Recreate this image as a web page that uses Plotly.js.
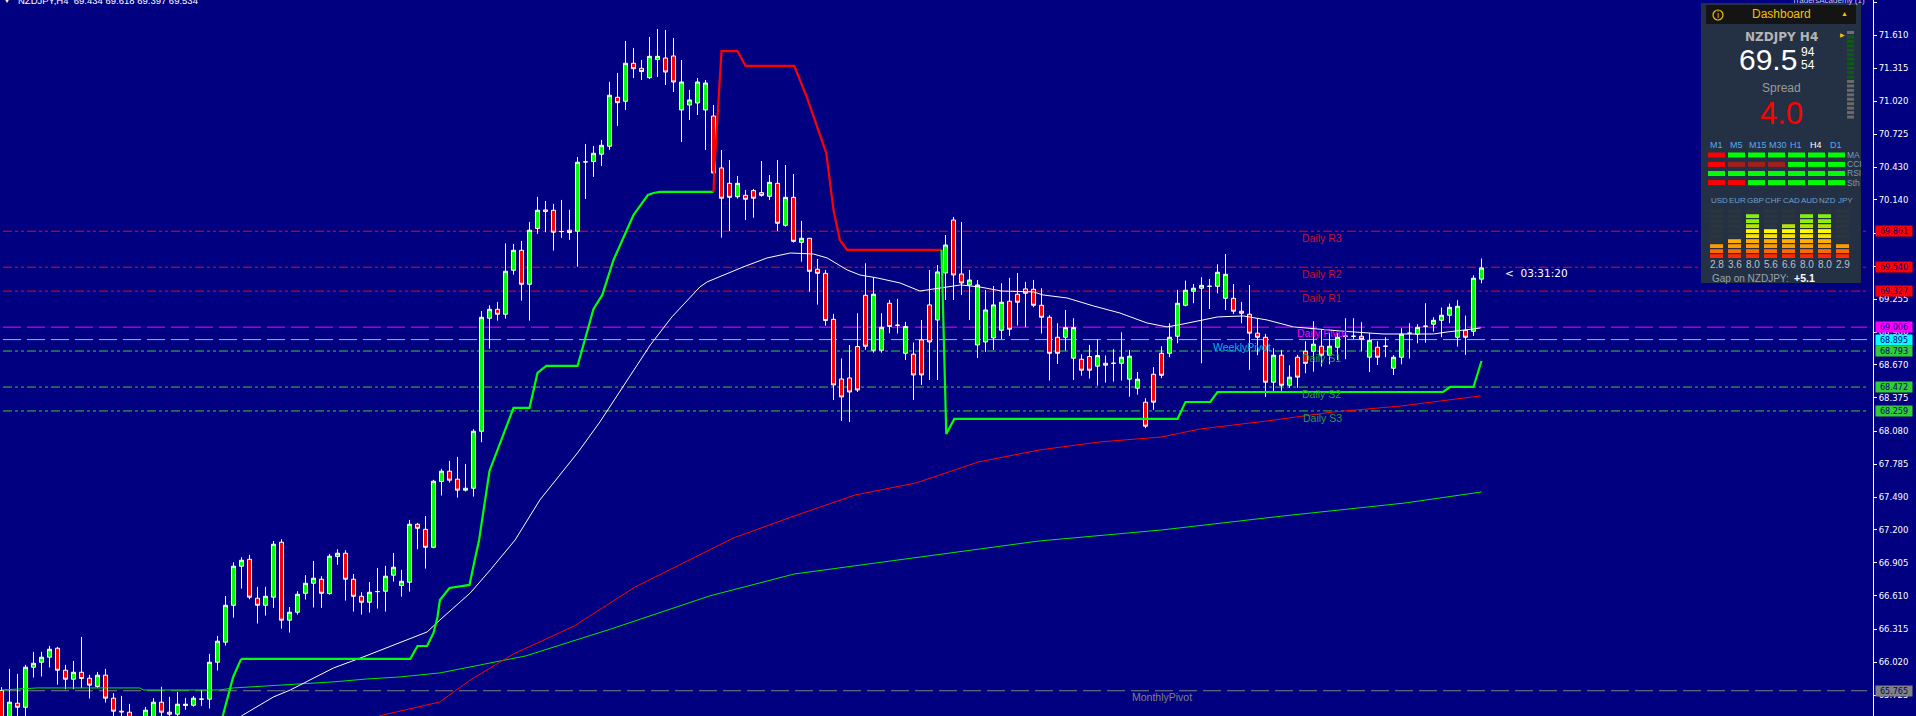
<!DOCTYPE html>
<html><head><meta charset="utf-8">
<script src="https://cdn.plot.ly/plotly-3.0.1.min.js"></script>
<style>html,body{margin:0;padding:0;background:#000080;overflow:hidden}#c{width:1916px;height:716px}</style>
</head><body><div id="c"></div><script>
// candles, oldest first. u = up, d = down
const dirs="d u d u u u u d d u d d u d d d d d u u d d u u u u u u u u u d d u u d u u u u d u u d d d u u u u u u d d u u d d u u u u d u u d u u d d d d u u u u u d u d d u u d d u u u u d d d u d d d u d u d u d d d d d d d d u u d u u d d d u u d d u u u u u d d d d d d d u u d d u d u u u u d d d u u u u u u u u d d d d d u d u d d u d u u u u d u d u u u u u u u u u u d u u u".split(" ");
const highs=[65.797,65.960,65.915,65.996,66.112,66.112,66.165,66.156,65.996,66.031,66.245,65.907,65.933,65.960,65.743,65.719,65.648,65.506,65.621,65.699,65.800,65.711,65.755,65.702,65.719,65.773,66.094,66.254,66.610,66.910,66.955,66.976,66.691,66.691,67.100,67.115,66.512,66.652,66.795,66.922,66.786,66.985,67.026,67.017,66.806,66.643,66.735,66.860,66.878,66.994,66.842,67.288,67.261,67.323,67.645,67.743,67.814,67.850,67.787,68.096,69.150,69.201,69.231,69.753,69.748,69.775,69.944,70.167,70.131,70.105,70.140,70.051,70.523,70.639,70.621,70.675,71.192,71.272,71.557,71.495,71.388,71.593,71.664,71.655,71.583,71.387,71.120,71.227,71.209,70.986,70.585,70.496,70.354,70.229,70.238,70.487,70.362,70.496,70.451,70.371,69.953,69.798,69.614,69.516,69.124,68.726,68.847,69.130,69.575,69.451,69.130,69.249,69.258,69.053,68.869,69.070,69.516,69.560,69.827,69.988,69.943,69.516,69.426,69.337,69.373,69.397,69.445,69.489,69.409,69.427,69.353,69.112,69.041,69.159,69.085,68.764,68.848,68.898,68.753,68.809,68.960,68.803,68.607,68.372,68.649,68.836,69.041,69.338,69.421,69.391,69.451,69.436,69.566,69.658,69.391,69.231,69.382,69.085,68.946,68.818,68.803,68.666,68.759,68.880,69.059,68.981,68.952,68.952,69.085,69.085,69.050,68.952,68.880,68.916,68.756,68.996,69.041,69.032,69.219,69.094,69.180,69.216,69.246,69.109,69.468,69.618];
const bodyTops=[65.767,65.663,65.654,65.975,66.010,66.064,66.135,66.144,65.948,65.930,65.930,65.877,65.904,65.904,65.699,65.583,65.574,65.446,65.592,65.663,65.663,65.574,65.645,65.645,65.699,65.690,66.019,66.207,66.527,66.875,66.928,66.937,66.590,66.607,67.071,67.089,66.465,66.625,66.723,66.768,66.759,66.964,66.991,66.991,66.759,66.607,66.643,66.649,66.786,66.866,66.741,67.249,67.249,67.204,67.633,67.722,67.722,67.651,67.570,68.078,69.094,69.165,69.165,69.504,69.691,69.691,69.870,70.048,70.051,70.048,69.858,69.870,70.476,70.479,70.556,70.627,71.073,71.055,71.358,71.358,71.313,71.420,71.420,71.405,71.423,71.191,71.031,71.191,71.182,70.888,70.425,70.288,70.288,70.181,70.223,70.205,70.297,70.288,70.163,70.163,69.798,69.798,69.522,69.486,69.076,68.544,68.553,68.833,69.290,69.299,69.005,69.219,69.023,69.011,68.765,68.892,69.204,69.498,69.738,69.961,69.480,69.426,69.382,69.159,69.204,69.228,69.237,69.299,69.347,69.344,69.201,69.094,68.916,69.002,69.002,68.720,68.744,68.753,68.684,68.684,68.738,68.747,68.542,68.337,68.586,68.773,68.916,69.219,69.335,69.353,69.379,69.370,69.495,69.477,69.263,69.148,69.121,68.952,68.916,68.756,68.756,68.560,68.738,68.791,68.854,68.836,68.836,68.916,68.925,68.925,68.925,68.889,68.827,68.836,68.738,68.943,68.952,69.005,69.014,69.067,69.112,69.183,69.192,68.978,69.442,69.534];
const bodyBottoms=[65.446,65.476,65.618,65.618,65.975,66.019,66.064,65.948,65.868,65.868,65.874,65.815,65.803,65.699,65.583,65.577,65.476,65.387,65.476,65.529,65.574,65.556,65.556,65.633,65.636,65.690,65.690,66.019,66.198,66.527,66.875,66.599,66.527,66.527,66.599,66.394,66.394,66.465,66.634,66.723,66.634,66.631,66.961,66.759,66.607,66.554,66.554,66.649,66.652,66.795,66.703,66.732,67.213,67.044,67.044,67.630,67.642,67.553,67.553,67.570,68.078,69.085,69.121,69.121,69.513,69.388,69.388,69.885,70.036,69.852,69.858,69.849,69.861,70.479,70.482,70.547,70.618,71.007,71.019,71.310,71.284,71.230,71.391,71.280,71.191,70.942,70.986,71.004,70.942,70.380,70.155,70.163,70.169,70.146,70.155,70.181,70.172,69.932,69.914,69.771,69.762,69.504,69.486,69.065,68.491,68.384,68.428,68.446,68.836,68.800,68.800,69.011,69.023,68.773,68.580,68.580,68.874,69.070,69.489,69.471,69.400,69.382,68.847,68.874,68.910,68.978,68.987,69.228,69.308,69.201,69.094,68.773,68.773,68.916,68.729,68.622,68.622,68.658,68.667,68.684,68.684,68.542,68.462,68.123,68.337,68.577,68.773,68.925,69.201,69.326,69.353,69.370,69.370,69.263,69.148,69.130,68.952,68.916,68.515,68.515,68.488,68.488,68.560,68.684,68.791,68.756,68.756,68.827,68.925,68.925,68.898,68.738,68.738,68.836,68.640,68.738,68.952,68.943,69.014,69.032,69.067,69.112,68.916,68.916,68.969,69.434];
const lows=[65.357,65.387,65.491,65.506,65.883,65.892,65.972,65.820,65.779,65.779,65.788,65.696,65.791,65.660,65.476,65.461,65.387,65.298,65.431,65.491,65.506,65.512,65.517,65.595,65.624,65.630,65.607,65.945,66.168,66.417,66.676,66.581,66.364,66.435,66.504,66.319,66.284,66.444,66.578,66.507,66.504,66.622,66.887,66.569,66.471,66.444,66.462,66.498,66.471,66.738,66.604,66.649,67.026,66.854,67.035,67.505,67.621,67.487,67.541,67.496,67.980,68.815,69.064,69.082,69.474,69.242,69.064,69.837,69.852,69.689,69.802,69.784,69.545,70.149,70.345,70.443,70.586,70.800,70.942,71.227,71.209,71.218,71.236,71.164,71.102,70.656,70.852,70.897,70.585,70.362,69.804,69.863,70.152,69.962,69.982,70.169,70.140,69.863,69.902,69.760,69.590,69.323,69.207,69.020,68.357,68.170,68.161,68.428,68.803,68.779,68.779,68.952,68.949,68.714,68.357,68.491,68.535,68.535,69.248,69.248,69.293,69.070,68.731,68.785,68.803,68.898,68.928,69.020,69.005,69.183,68.949,68.530,68.678,68.797,68.536,68.574,68.548,68.485,68.512,68.521,68.530,68.387,68.405,68.105,68.269,68.551,68.738,68.862,69.192,69.219,68.684,69.168,69.308,69.159,69.124,69.041,68.625,68.756,68.384,68.438,68.438,68.465,68.465,68.595,68.610,68.655,68.675,68.714,68.720,68.898,68.791,68.607,68.669,68.738,68.580,68.675,68.726,68.862,68.868,68.966,68.916,69.041,68.833,68.759,68.928,69.397];
const barIndex=highs.map((_,i)=>i);
const opens=dirs.map((d,i)=>d==='u'?bodyBottoms[i]:bodyTops[i]);
const closes=dirs.map((d,i)=>d==='u'?bodyTops[i]:bodyBottoms[i]);

// trailing stop, in three legs
const stopUp1Idx=[27.2,28.6,28.96,29.9,30.1,51.1,52,53.2,54,54.5,54.8,56,58.5,59.1,59.7,61,64,66,67,68.1,72,74,75.1,76.5,78.2,79,80.8,81.5,82.3,89];
const stopUp1=[65.42,65.799,65.888,66.04,66.049,66.049,66.164,66.164,66.28,66.423,66.574,66.681,66.708,66.913,67.109,67.724,68.286,68.286,68.598,68.66,68.66,69.168,69.293,69.605,69.872,70.006,70.184,70.202,70.211,70.211];
const stopDownIdx=[89,89.1,90,92,93,99.1,100.7,103.1,104,104.8,105.7,117.5];
const stopDown=[70.211,70.407,71.467,71.467,71.334,71.334,71.049,70.558,70.05,69.783,69.694,69.694];
const stopUp2Idx=[117.5,118.1,119.1,147,148,151.1,152,180.2,181.1,184,185];
const stopUp2=[69.694,68.054,68.188,68.188,68.339,68.339,68.428,68.428,68.473,68.473,68.704];

// moving averages
const whiteMaIdx=[30,34,36.1,41.5,45.2,49.8,53.2,54.8,58.6,61.1,64.2,67.3,72,74.8,77.7,81.1,83.8,87.3,88.2,92.7,95.7,98.6,101.5,103.2,105.7,107.3,109.5,112.3,114.8,117.5,119.9,122.3,125,129,130.2,133.2,136.5,139.8,143.2,145.7,147.7,152,155.2,158.2,161.5,167.3,172.7,179,180.7,184,184.9];
const whiteMa=[65.541,65.71,65.772,65.968,66.066,66.191,66.289,66.396,66.637,66.842,67.109,67.466,67.885,68.161,68.473,68.847,69.097,69.364,69.409,69.542,69.623,69.667,69.658,69.623,69.516,69.471,69.444,69.4,69.328,69.355,69.382,69.364,69.328,69.32,69.293,69.266,69.195,69.132,69.043,69.008,69.034,69.097,69.106,69.07,69.008,68.972,68.945,68.945,68.963,68.99,68.999];
const redMaIdx=[47.2,54.8,58.6,64,71.6,79.2,91.5,99.1,106.7,114.3,122.1,129.7,137.3,145,149.8,158.2,166.5,174.9,184.9];
const redMa=[65.541,65.665,65.861,66.093,66.343,66.69,67.127,67.323,67.51,67.617,67.804,67.911,67.983,68.027,68.098,68.17,68.25,68.303,68.393];
const greenMaIdx=[0,4.5,17.3,17.7,27.3,29,33.2,37.3,41.5,45.7,49.8,54.8,65.5,76.2,88.5,99.1,114.3,129.7,145,160.2,175.5,185];
const greenMa=[65.772,65.79,65.79,65.772,65.772,65.79,65.808,65.826,65.844,65.87,65.888,65.924,66.075,66.316,66.61,66.806,66.949,67.1,67.198,67.323,67.439,67.537];

// pivot levels
const levelNames=["Daily R3","Daily R2","Daily R1","Daily Pivot","WeeklyPivot","Daily S1","Daily S2","Daily S3","MonthlyPivot"];
const levelValues=[69.861,69.540,69.327,69.006,68.895,68.793,68.472,68.259,65.765];
const levelColors=["#ff0000","#ff0000","#ff0000","#ff00ff","#00ffff","#32cd32","#32cd32","#32cd32","#808080"];
const levelBadgeText=["69.861","69.540","69.327","69.006","68.895","68.793","68.472","68.259","65.765"];
const levelLabelColors=["#c8102e","#c8102e","#c8102e","#ff00ff","#00b7e8","#2e9e3f","#2e9e3f","#2e9e3f","#808080"];
const levelLabelIdx=[165.1,165.1,165.1,165.1,155,165,165,165.1,145];
const levelLabelPrice=[69.80,69.48,69.27,68.95,68.83,68.73,68.41,68.20,65.71];

const yTicks=[71.900,71.610,71.315,71.020,70.725,70.430,70.140,69.845,69.550,69.255,68.960,68.670,68.375,68.080,67.785,67.490,67.200,66.905,66.610,66.315,66.020,65.725];

// dashboard
const tfNames=["M1","M5","M15","M30","H1","H4","D1"];
const rowNames=["MA","CCI","RSI","Sth"];
const rowStates=[["r","g","g","g","g","g","g"],["r","m","m","m","g","g","g"],["g","g","g","g","g","g","g"],["r","r","g","g","g","g","g"]];
const currencies=["USD","EUR","GBP","CHF","CAD","AUD","NZD","JPY"];
const strength=[2.8,3.6,8.0,5.6,6.6,8.0,8.0,2.9];
const litSegments=[3,4,9,6,7,9,9,3];
const segmentColors=["#ff2a00","#ff6a00","#ff9900","#ffb000","#ffe000","#ffff00","#b8e000","#90ee10","#80f010","#2a3540"];

const W=1873,H=716;
const X=x=>x/W, Y=y=>1-y/H;
const shapes=[],ann=[];
const solidShape=(x0,y0,x1,y1,c)=>shapes.push({type:'rect',xref:'paper',yref:'paper',x0:X(x0),x1:X(x1),y0:Y(y0),y1:Y(y1),fillcolor:c,line:{width:0},layer:'above'});
const text=(t,x,y,size,color,opt={})=>ann.push(Object.assign({text:t,xref:'paper',yref:'paper',x:X(x),y:Y(y),xanchor:'center',yanchor:'middle',showarrow:false,borderpad:0,font:{family:'Liberation Sans',size,color}},opt));

levelValues.forEach((v,i)=>{
  const dash=(i===3||i===4||i===8)?"18px,6px":"9px,3px,3px,3px,3px,3px";
  shapes.push({type:'line',xref:'paper',yref:'y',x0:X(3),x1:X(1867),y0:v,y1:v,layer:'below',line:{color:levelColors[i],width:1,dash}});
  ann.push({text:levelNames[i],xref:'x',yref:'y',x:levelLabelIdx[i],y:levelLabelPrice[i],showarrow:false,borderpad:0,font:{family:'Liberation Sans',size:10.5,color:levelLabelColors[i]}});
  ann.push({text:levelBadgeText[i],xref:'paper',yref:'y',x:X(1875),xanchor:'left',y:v,yanchor:'middle',width:36,height:10,align:'center',showarrow:false,borderpad:0,bgcolor:levelColors[i],font:{family:'DejaVu Sans',size:8,color:'#000080'}});
});

// dashboard frame
solidShape(1701,3,1861,283,'#243044');
solidShape(1706,5,1856,24,'#141414');
shapes.push({type:'circle',xref:'paper',yref:'paper',x0:X(1713),x1:X(1723),y0:Y(10),y1:Y(20),line:{color:'#f2c200',width:1.2},layer:'above'});
text('i',1718,15,8,'#f2c200',{font:{family:'Liberation Sans',size:9,color:'#f2c200'}});
text('Dashboard',1781,14.5,12,'#f2c200');
text('▲',1844,14,7,'#f2c200');
text('<b>NZDJPY H4</b>',1781,36.5,12.5,'#b4b4b4',{font:{family:'DejaVu Sans',size:12,color:'#b4b4b4'}});
text('69.5',1768,60,30,'#ffffff');
text('94',1808,52.5,12,'#ffffff');
text('54',1808,65,12,'#ffffff');
text('Spread',1781,88,12,'#9a9a9a');
text('4.0',1781,114,31,'#ff0000');
text('▶',1842.7,35,6,'#f2c200');
for(let k=0;k<20;k++){
  const y0=31+k*4.45;
  const c=k<1?'#707070':(k<11?'#0c5c14':'#6a6a6a');
  solidShape(1847,y0,1854,y0+3,c);
}
tfNames.forEach((n,i)=>{
  text(n,1716+(i<2?i*20:[42,62,80,100,120][i-2]),145,9,n==='H4'?'#ffffff':'#55aaee');
});
const stateColor={r:'#ff0000',m:'#a02020',g:'#00ff00'};
rowStates.forEach((row,r)=>{
  const yc=[155,164.4,173.5,182.6][r];
  row.forEach((s,c)=>solidShape(1708+c*20,yc-2.5,1725+c*20,yc+2.5,stateColor[s]));
  text(rowNames[r],1846,yc,8.5,'#7f9ab5',{xanchor:'left'});
});
currencies.forEach((n,i)=>{
  text(n,1719+i*18,200,8,'#6fa0c8');
  const x0=1710+i*18;
  for(let s=0;s<10;s++){
    const y1=258-s*5, y0=y1-3.8;
    solidShape(x0,y0,x0+13,y1,s<litSegments[i]?segmentColors[s]:'#2a3540');
  }
  text(strength[i].toFixed(1),1716.7+i*18,265,10,'#b8c0c8');
});
text('Gap on NZDJPY:',1711,278,10,'#9aa4ae',{xanchor:'left'});
text('<b>+5.1</b>',1793,278,10.5,'#ffffff',{xanchor:'left'});

// header and clock
text('▼',7,0,8,'#ffffff');
text('NZDJPY,H4  69.434 69.618 69.397 69.534',17,0,9.5,'#ffffff',{xanchor:'left'});
text('TradersAcademy (1)',1866,0,8,'#c8d0e0',{xanchor:'right'});
text('<  03:31:20',1504,273,11,'#ffffff',{xanchor:'left',font:{family:'DejaVu Sans',size:10.5,color:'#ffffff'}});

const thin=(x,y,c,w)=>({type:'scatter',mode:'lines',x,y,hoverinfo:'skip',line:{color:c,width:w,shape:'linear'}});
const data=[
 {type:'candlestick',x:barIndex,open:opens,high:highs,low:lows,close:closes,whiskerwidth:0,
  increasing:{line:{color:'#ffffff',width:1},fillcolor:'#00ff00'},
  decreasing:{line:{color:'#ffffff',width:1},fillcolor:'#ff0000'},hoverinfo:'skip'},
 thin(greenMaIdx,greenMa,'#00e800',1),
 thin(redMaIdx,redMa,'#ff0000',1),
 thin(whiteMaIdx,whiteMa,'#ffffff',1),
 thin(stopUp1Idx,stopUp1,'#00ff00',2.2),
 thin(stopDownIdx,stopDown,'#ff0000',2.2),
 thin(stopUp2Idx,stopUp2,'#00ff00',2.2)
];
const layout={width:1916,height:716,margin:{l:0,r:43,t:0,b:0,pad:0},showlegend:false,
 paper_bgcolor:'#000080',plot_bgcolor:'#000080',boxgap:0.5,boxgroupgap:0,
 xaxis:{visible:false,range:[-0.1875,233.9375],rangeslider:{visible:false},fixedrange:true},
 yaxis:{side:'right',range:[65.540,71.922],tickmode:'array',tickvals:yTicks,ticktext:yTicks.map(v=>v.toFixed(3)),
  showgrid:false,zeroline:false,showline:true,mirror:true,linecolor:'#ffffff',linewidth:1,ticks:'outside',ticklen:3,tickcolor:'#ffffff',
  tickfont:{family:'DejaVu Sans',size:8.5,color:'#ffffff'},fixedrange:true},
 shapes,annotations:ann};
Plotly.newPlot('c',data,layout,{displayModeBar:false,staticPlot:true});
</script></body></html>
